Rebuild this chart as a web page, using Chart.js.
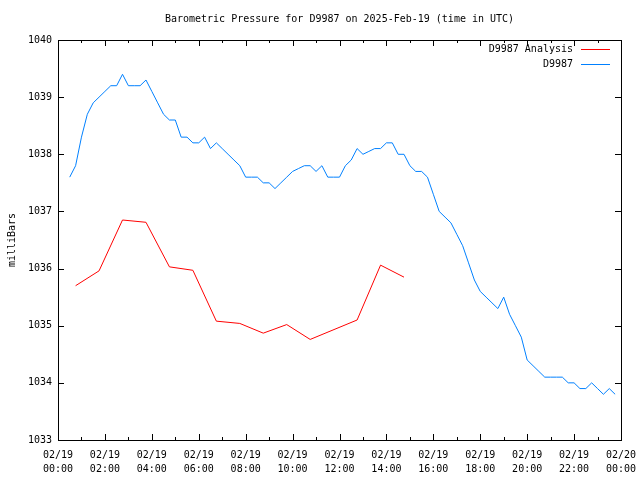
<!DOCTYPE html>
<html>
<head>
<meta charset="utf-8">
<script src="https://cdn.jsdelivr.net/npm/chart.js@4/dist/chart.umd.min.js"></script>
<style>
  html, body { margin: 0; padding: 0; background: #fff; }
  canvas { display: block; }
</style>
</head>
<body>
<canvas id="pressureChart" width="640" height="480"></canvas>
<script>
// station observations, every 15 minutes (UTC)
const obsTimes = [
  "00:30","00:45","01:00","01:15","01:30","01:45","02:00","02:15","02:30","02:45",
  "03:00","03:15","03:30","03:45","04:00","04:15","04:30","04:45","05:00","05:15",
  "05:30","05:45","06:00","06:15","06:30","06:45","07:00","07:15","07:30","07:45",
  "08:00","08:15","08:30","08:45","09:00","09:15","09:30","09:45","10:00","10:15",
  "10:30","10:45","11:00","11:15","11:30","11:45","12:00","12:15","12:30","12:45",
  "13:00","13:15","13:30","13:45","14:00","14:15","14:30","14:45","15:00","15:15",
  "15:30","15:45","16:00","16:15","16:30","16:45","17:00","17:15","17:30","17:45",
  "18:00","18:15","18:30","18:45","19:00","19:15","19:30","19:45","20:00","20:15",
  "20:30","20:45","21:00","21:15","21:30","21:45","22:00","22:15","22:30","22:45",
  "23:00","23:15","23:30","23:45"
];
const obsValues = [
  1037.6, 1037.8, 1038.3, 1038.7, 1038.9, 1039.0, 1039.1, 1039.2, 1039.2, 1039.4,
  1039.2, 1039.2, 1039.2, 1039.3, 1039.1, 1038.9, 1038.7, 1038.6, 1038.6, 1038.3,
  1038.3, 1038.2, 1038.2, 1038.3, 1038.1, 1038.2, 1038.1, 1038.0, 1037.9, 1037.8,
  1037.6, 1037.6, 1037.6, 1037.5, 1037.5, 1037.4, 1037.5, 1037.6, 1037.7, 1037.75,
  1037.8, 1037.8, 1037.7, 1037.8, 1037.6, 1037.6, 1037.6, 1037.8, 1037.9, 1038.1,
  1038.0, 1038.05, 1038.1, 1038.1, 1038.2, 1038.2, 1038.0, 1038.0, 1037.8, 1037.7,
  1037.7, 1037.6, 1037.3, 1037.0, 1036.9, 1036.8, 1036.6, 1036.4, 1036.1, 1035.8,
  1035.6, 1035.5, 1035.4, 1035.3, 1035.5, 1035.2, 1035.0, 1034.8, 1034.4, 1034.3,
  1034.2, 1034.1, 1034.1, 1034.1, 1034.1, 1034.0, 1034.0, 1033.9, 1033.9, 1034.0,
  1033.9, 1033.8, 1033.9, 1033.8
];

// model analysis, hourly
const analysisTimes = [
  "00:45","01:45","02:45","03:45","04:45","05:45","06:45","07:45",
  "08:45","09:45","10:45","12:45","13:45","14:45"
];
const analysisValues = [
  1035.70, 1035.96, 1036.85, 1036.81, 1036.03, 1035.97, 1035.08, 1035.04,
  1034.87, 1035.02, 1034.76, 1035.10, 1036.06, 1035.85
];

const yTicks = [1033, 1034, 1035, 1036, 1037, 1038, 1039, 1040];
const xTickHours = [0, 2, 4, 6, 8, 10, 12, 14, 16, 18, 20, 22, 24];

const FONT = "'DejaVu Sans Mono', 'Liberation Mono', monospace";

function toHours(t) {
  const parts = t.split(":");
  return parseInt(parts[0]) + parseInt(parts[1]) / 60;
}

function toPoints(times, values) {
  return times.map((t, i) => ({ x: toHours(t), y: values[i] }));
}

// frame, inward ticks, title and gnuplot-style key
const framePlugin = {
  id: "frame",
  afterDraw(chart) {
    const ctx = chart.ctx;
    const area = chart.chartArea;
    const xs = chart.scales.x;
    const ys = chart.scales.y;

    ctx.save();
    ctx.strokeStyle = "#000";
    ctx.lineWidth = 1;
    ctx.strokeRect(Math.round(area.left) + 0.5, Math.round(area.top) + 0.5,
      Math.round(area.right - area.left), Math.round(area.bottom - area.top));

    ctx.beginPath();
    yTicks.forEach(v => {
      const y = Math.round(ys.getPixelForValue(v)) + 0.5;
      ctx.moveTo(area.left, y);
      ctx.lineTo(area.left + 6, y);
      ctx.moveTo(area.right, y);
      ctx.lineTo(area.right - 6, y);
    });
    for (let h = 0; h <= 24; h++) {
      const x = Math.round(xs.getPixelForValue(h)) + 0.5;
      const len = xTickHours.includes(h) ? 6 : 3;
      ctx.moveTo(x, area.bottom);
      ctx.lineTo(x, area.bottom - len);
      ctx.moveTo(x, area.top);
      ctx.lineTo(x, area.top + len);
    }
    ctx.stroke();

    ctx.fillStyle = "#000";
    ctx.font = "10px " + FONT;
    ctx.textAlign = "center";
    ctx.textBaseline = "middle";
    ctx.fillText("Barometric Pressure for D9987 on 2025-Feb-19 (time in UTC)",
      (area.left + area.right) / 2, 19);

    ctx.textAlign = "right";
    chart.data.datasets.forEach((ds, i) => {
      const y = 49 + i * 15;
      ctx.fillStyle = "#000";
      ctx.fillText(ds.label, 573, y);
      ctx.strokeStyle = ds.borderColor;
      ctx.beginPath();
      ctx.moveTo(581, Math.round(y) + 0.5);
      ctx.lineTo(610, Math.round(y) + 0.5);
      ctx.stroke();
    });
    ctx.restore();
  }
};

new Chart(document.getElementById("pressureChart"), {
  type: "line",
  data: {
    datasets: [
      {
        label: "D9987 Analysis",
        data: toPoints(analysisTimes, analysisValues),
        borderColor: "#ff0000",
        borderWidth: 1,
        pointRadius: 0,
        tension: 0
      },
      {
        label: "D9987",
        data: toPoints(obsTimes, obsValues),
        borderColor: "#0080ff",
        borderWidth: 1,
        pointRadius: 0,
        tension: 0
      }
    ]
  },
  options: {
    responsive: false,
    animation: false,
    layout: { padding: { top: 40, right: 19, left: 0, bottom: 0 } },
    plugins: {
      legend: { display: false },
      title: { display: false },
      tooltip: { enabled: false }
    },
    scales: {
      x: {
        type: "linear",
        min: 0,
        max: 24,
        grid: { display: false },
        border: { display: false },
        afterFit(scale) {
          scale.height = 40;
          scale.paddingLeft = 0;
          scale.paddingRight = 0;
        },
        ticks: {
          stepSize: 1,
          autoSkip: false,
          maxRotation: 0,
          padding: 0,
          color: "#000",
          font: { family: FONT, size: 10, lineHeight: 1.4 },
          callback(v) {
            if (!xTickHours.includes(v)) return "";
            if (v === 24) return ["02/20", "00:00"];
            return ["02/19", String(v).padStart(2, "0") + ":00"];
          }
        }
      },
      y: {
        min: 1033,
        max: 1040,
        grid: { display: false, drawTicks: false },
        border: { display: false },
        afterFit(scale) {
          scale.width = 58;
          scale.paddingTop = 0;
          scale.paddingBottom = 0;
        },
        ticks: {
          stepSize: 1,
          padding: 6,
          color: "#000",
          font: { family: FONT, size: 10 },
          callback(v) { return String(v); }
        },
        title: {
          display: true,
          text: "milliBars",
          color: "#000",
          padding: { top: 6, bottom: 0 },
          font: { family: FONT, size: 10 }
        }
      }
    }
  },
  plugins: [framePlugin]
});
</script>
</body>
</html>
